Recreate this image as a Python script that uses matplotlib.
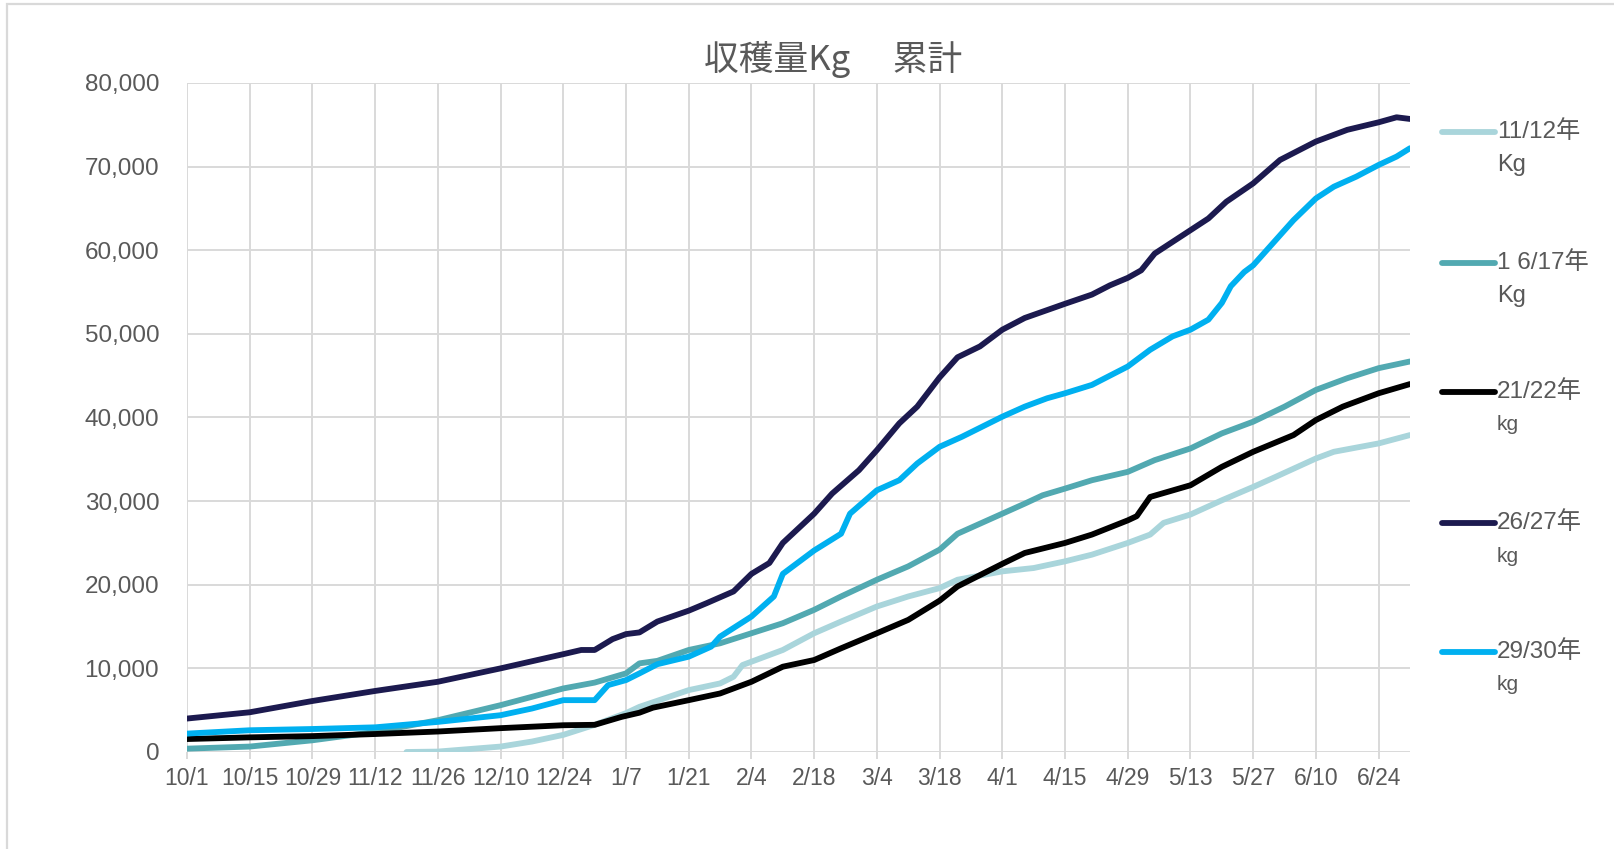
import pandas as pd
import numpy as np
import matplotlib
matplotlib.use("Agg")
import matplotlib.pyplot as plt
from matplotlib.lines import Line2D
from matplotlib.patches import Rectangle

plt.rcParams['font.family'] = ['Liberation Sans', 'Noto Sans CJK JP', 'DejaVu Sans']

# season runs 10/1 -> 7/1, dates given as m/d
tick_labels = ['10/1', '10/15', '10/29', '11/12', '11/26', '12/10', '12/24', '1/7', '1/21',
               '2/4', '2/18', '3/4', '3/18', '4/1', '4/15', '4/29', '5/13', '5/27', '6/10', '6/24']

d_1112 = ['11/19', '11/26', '12/10', '12/17', '12/24', '12/31', '1/7', '1/10', '1/21', '1/28',
          '1/31', '2/2', '2/4', '2/11', '2/18', '2/24', '3/4', '3/11', '3/18', '3/22', '4/1',
          '4/8', '4/15', '4/21', '4/29', '5/4', '5/7', '5/13', '5/20', '5/27', '6/1', '6/10',
          '6/14', '6/24', '7/1']
kg_1112 = [0, 50, 650, 1250, 2050, 3250, 4650, 5400, 7400, 8200,
           9000, 10400, 10800, 12200, 14200, 15600, 17400, 18600, 19600, 20600, 21600,
           22000, 22800, 23600, 25000, 26000, 27400, 28400, 30100, 31700, 32900, 35100,
           35900, 36900, 37900]

d_1617 = ['10/1', '10/15', '10/29', '11/12', '11/26', '12/10', '12/17', '12/24', '12/31', '1/7',
          '1/10', '1/14', '1/21', '1/28', '2/4', '2/11', '2/18', '2/24', '3/4', '3/11', '3/18',
          '3/22', '4/1', '4/6', '4/10', '4/15', '4/21', '4/29', '5/5', '5/13', '5/20', '5/27',
          '6/3', '6/10', '6/17', '6/24', '7/1']
kg_1617 = [400, 650, 1400, 2400, 3800, 5600, 6600, 7600, 8300, 9400,
           10600, 10900, 12200, 13000, 14200, 15400, 17000, 18600, 20600, 22200, 24200,
           26100, 28500, 29700, 30700, 31500, 32500, 33500, 34900, 36300, 38100, 39500,
           41300, 43300, 44700, 45900, 46700]

d_2122 = ['10/1', '10/15', '10/29', '11/12', '11/26', '12/10', '12/24', '12/31', '1/6', '1/10',
          '1/13', '1/21', '1/28', '2/4', '2/11', '2/18', '2/24', '3/4', '3/11', '3/18', '3/22',
          '4/1', '4/6', '4/15', '4/21', '4/29', '5/1', '5/4', '5/13', '5/20', '5/27', '6/5',
          '6/10', '6/16', '6/24', '7/1']
kg_2122 = [1550, 1750, 1900, 2150, 2450, 2850, 3200, 3250, 4200, 4700,
           5300, 6200, 7000, 8400, 10200, 11000, 12400, 14200, 15800, 18100, 19800,
           22500, 23800, 25000, 26000, 27700, 28200, 30500, 31900, 34100, 35900, 37900,
           39700, 41300, 42900, 44000]

d_2627 = ['10/1', '10/15', '10/29', '11/12', '11/26', '12/10', '12/24', '12/28', '12/31', '1/4',
          '1/7', '1/10', '1/14', '1/21', '1/25', '1/31', '2/4', '2/8', '2/11', '2/18', '2/22',
          '2/28', '3/4', '3/9', '3/13', '3/18', '3/22', '3/27', '4/1', '4/6', '4/15', '4/21',
          '4/25', '4/29', '5/2', '5/5', '5/9', '5/13', '5/17', '5/21', '5/27', '6/2', '6/10',
          '6/17', '6/24', '6/28', '7/1']
kg_2627 = [4000, 4750, 6100, 7300, 8400, 10000, 11700, 12200, 12200, 13500,
           14100, 14300, 15600, 16900, 17800, 19200, 21300, 22600, 25000, 28500, 30900,
           33700, 36100, 39300, 41300, 44800, 47200, 48500, 50500, 51900, 53600, 54700,
           55800, 56700, 57600, 59600, 61000, 62400, 63800, 65800, 68000, 70800, 73000,
           74400, 75300, 75900, 75700]

d_2930 = ['10/1', '10/15', '10/29', '11/12', '11/26', '12/10', '12/17', '12/24', '12/31', '1/3',
          '1/7', '1/10', '1/14', '1/21', '1/26', '1/28', '2/4', '2/9', '2/11', '2/18', '2/24',
          '2/26', '3/4', '3/9', '3/13', '3/18', '3/23', '3/26', '4/1', '4/6', '4/11', '4/15',
          '4/21', '4/29', '5/4', '5/9', '5/13', '5/17', '5/20', '5/22', '5/25', '5/27', '6/1',
          '6/5', '6/10', '6/14', '6/19', '6/24', '6/28', '7/1']
kg_2930 = [2200, 2600, 2750, 2950, 3600, 4400, 5200, 6200, 6200, 8000,
           8600, 9400, 10500, 11400, 12600, 13800, 16200, 18600, 21300, 24100, 26100,
           28500, 31300, 32500, 34500, 36500, 37700, 38500, 40100, 41300, 42300, 42900,
           43900, 46100, 48100, 49700, 50500, 51700, 53700, 55700, 57400, 58200, 61200,
           63600, 66200, 67600, 68800, 70200, 71200, 72200]

labels = ['11/12年', '1 6/17年', '21/22年', '26/27年', '29/30年']
units = ['Kg', 'Kg', 'kg', 'kg', 'kg']
colors = ['#a9d5db', '#52a9b1', '#000000', '#1c1a4f', '#00b0f0']

start = pd.Timestamp('2022-10-01')


def to_day(md):
    m, d = [int(v) for v in md.split('/')]
    year = 2022 if m >= 10 else 2023
    return (pd.Timestamp(year=year, month=m, day=d) - start).days


series = [(d_1112, kg_1112), (d_1617, kg_1617), (d_2122, kg_2122),
          (d_2627, kg_2627), (d_2930, kg_2930)]

fig = plt.figure(figsize=(16.15, 8.49), dpi=100)
ax = fig.add_axes([187 / 1615, 97 / 849, 1223 / 1615, 669 / 849])

for (dd, kg), c in zip(series, colors):
    x = [to_day(v) for v in dd]
    ax.plot(x, kg, color=c, lw=4.2, solid_joinstyle='round', solid_capstyle='round', zorder=3)

grid_c = '#d9d9d9'
ax.set_xlim(0, 273)
ax.set_ylim(0, 80000)
ax.set_xticks([to_day(t) for t in tick_labels])
ax.set_xticklabels(tick_labels)
ax.set_yticks(np.arange(0, 80001, 10000))
ax.yaxis.set_major_formatter(matplotlib.ticker.FuncFormatter(lambda v, p: f'{int(v):,}'))
ax.grid(True, color=grid_c, lw=1.4)
ax.set_axisbelow(True)
for s in ax.spines.values():
    s.set_visible(False)
ax.tick_params(axis='x', length=5, width=1.4, color=grid_c, pad=6, labelsize=16.5, labelcolor='#595959')
ax.tick_params(axis='y', length=0, pad=20, labelsize=17.5, labelcolor='#595959')

fig.text(833 / 1615, 1 - 59 / 849, '収穫量Kg　 累計', ha='center', va='center',
         fontsize=25, color='#595959', family=['Noto Sans CJK JP', 'DejaVu Sans'])

# legend on the right, label split over two lines
leg_y = [132, 263, 392, 523, 652]
for lab, u, c, yy in zip(labels, units, colors, leg_y):
    fy = 1 - yy / 849
    fig.add_artist(Line2D([1442 / 1615, 1495 / 1615], [fy, fy], color=c, lw=4.2,
                          solid_capstyle='round', transform=fig.transFigure))
    fig.text(1497 / 1615, fy, lab, ha='left', va='center', fontsize=17.5, color='#595959')
    fig.text(1497 / 1615, fy - 33 / 849, u, ha='left', va='center',
             fontsize=17 if u == 'Kg' else 15, color='#595959')

# chart frame
fig.add_artist(Rectangle((7 / 1615, -0.1), 1.2, 1.1 - 4 / 849, transform=fig.transFigure,
                         fill=False, edgecolor=grid_c, lw=1.6))

fig.savefig('out.png', dpi=100)
